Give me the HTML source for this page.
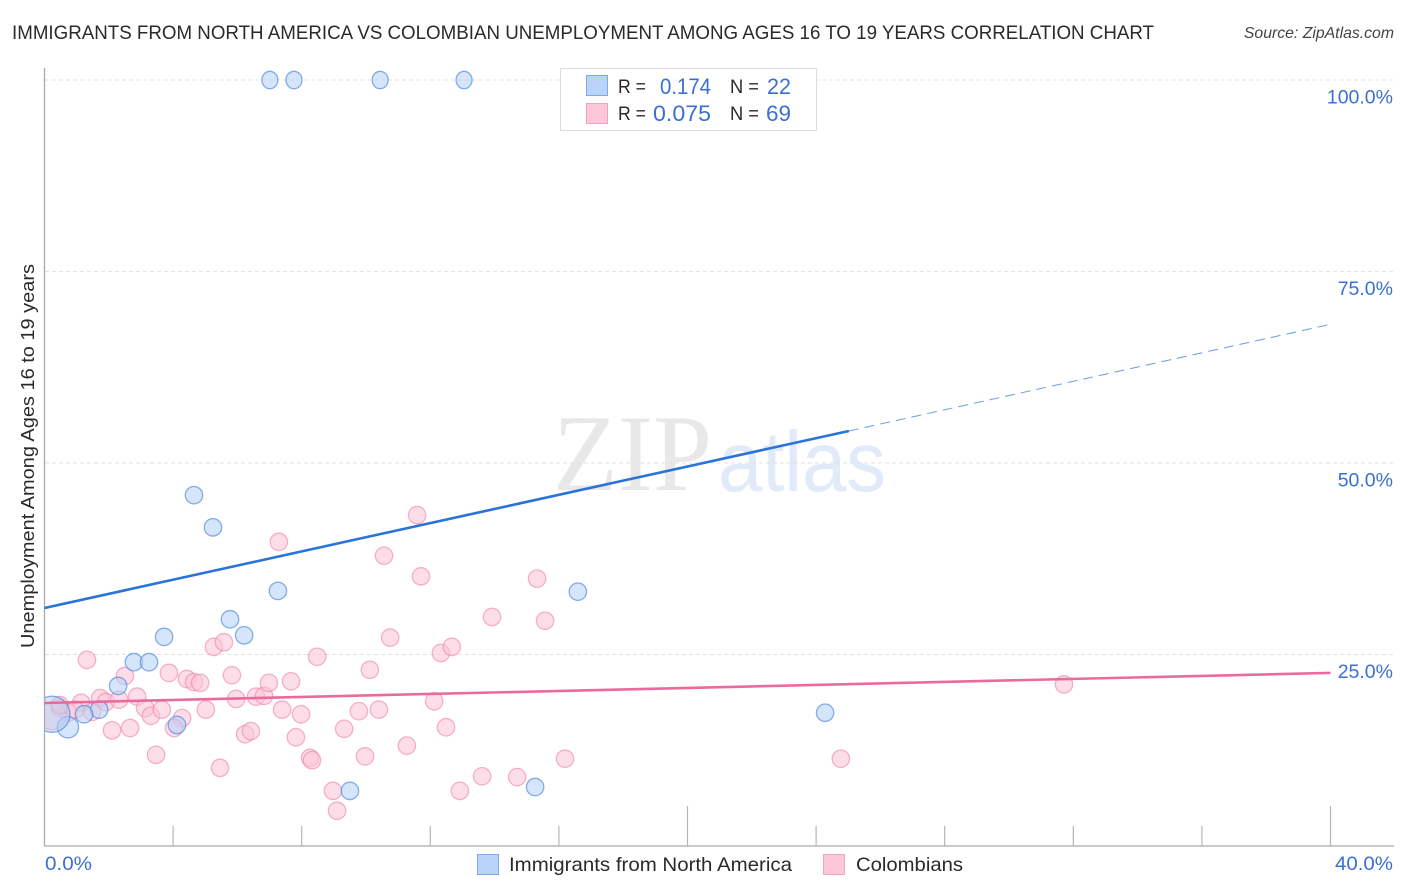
<!DOCTYPE html>
<html>
<head>
<meta charset="utf-8">
<title>Correlation chart</title>
<style>
html,body{margin:0;padding:0;background:#fff;}
svg{display:block;font-family:"Liberation Sans",sans-serif;}
</style>
</head>
<body>
<svg id="chart" width="1406" height="892" viewBox="0 0 1406 892" xmlns="http://www.w3.org/2000/svg">
  <defs><clipPath id="plot-clip"><rect x="45" y="60" width="1350" height="786"/></clipPath></defs>
  <text x="553" y="490" font-family="'Liberation Serif',serif" font-size="109" fill="#e8e8e8" textLength="159" lengthAdjust="spacingAndGlyphs">ZIP</text>
  <text x="718" y="491" font-family="'Liberation Sans',sans-serif" font-size="85" fill="#e0eaf9" textLength="168" lengthAdjust="spacingAndGlyphs">atlas</text>
  <g id="grid"></g>
  <g id="axes"></g>
  <g id="marks" clip-path="url(#plot-clip)"></g>
  <g id="trends"></g>
  <g id="ylabels"></g>

  <text x="12" y="39" font-size="19.5" fill="#2a2a2a" textLength="1142" lengthAdjust="spacingAndGlyphs">IMMIGRANTS FROM NORTH AMERICA VS COLOMBIAN UNEMPLOYMENT AMONG AGES 16 TO 19 YEARS CORRELATION CHART</text>
  <text x="1394" y="38" font-size="15.8" font-style="italic" fill="#444" text-anchor="end">Source: ZipAtlas.com</text>
  <text transform="translate(34,648) rotate(-90)" font-size="18.5" fill="#2a2a2a" textLength="384" lengthAdjust="spacingAndGlyphs">Unemployment Among Ages 16 to 19 years</text>

  <g>
    <rect x="560.5" y="68.5" width="256" height="62" fill="#fff" stroke="#dcdcdc"/>
    <rect x="586.5" y="75.5" width="21" height="20" fill="#b9d4f8" stroke="#7fa9e6"/>
    <rect x="586.5" y="103.5" width="21" height="20" fill="#fcc8d9" stroke="#f2a3bd"/>
    <text x="618" y="93" font-size="19.5" fill="#2a2a2a" textLength="28" lengthAdjust="spacingAndGlyphs">R =</text>
    <text x="660" y="94" font-size="22" fill="#3a70d2" textLength="51" lengthAdjust="spacingAndGlyphs">0.174</text>
    <text x="730" y="93" font-size="19.5" fill="#2a2a2a" textLength="29" lengthAdjust="spacingAndGlyphs">N =</text>
    <text x="767" y="94" font-size="22" fill="#3a70d2" textLength="24" lengthAdjust="spacingAndGlyphs">22</text>
    <text x="618" y="120" font-size="19.5" fill="#2a2a2a" textLength="28" lengthAdjust="spacingAndGlyphs">R =</text>
    <text x="653" y="121" font-size="22" fill="#3a70d2" textLength="58" lengthAdjust="spacingAndGlyphs">0.075</text>
    <text x="730" y="120" font-size="19.5" fill="#2a2a2a" textLength="29" lengthAdjust="spacingAndGlyphs">N =</text>
    <text x="766" y="121" font-size="22" fill="#3a70d2" textLength="25" lengthAdjust="spacingAndGlyphs">69</text>
  </g>

  <g>
    <rect x="477.5" y="854.5" width="21" height="20" fill="#b9d4f8" stroke="#7fa9e6"/>
    <text x="509" y="871" font-size="19.5" fill="#2a2a2a" textLength="283" lengthAdjust="spacingAndGlyphs">Immigrants from North America</text>
    <rect x="823.5" y="854.5" width="21" height="20" fill="#fcc8d9" stroke="#f2a3bd"/>
    <text x="856" y="871" font-size="19.5" fill="#2a2a2a" textLength="107" lengthAdjust="spacingAndGlyphs">Colombians</text>
  </g>

  <text x="45" y="870" font-size="19.5" fill="#3a70d2" textLength="47" lengthAdjust="spacingAndGlyphs">0.0%</text>
  <text x="1335" y="870" font-size="19.5" fill="#3a70d2" textLength="58" lengthAdjust="spacingAndGlyphs">40.0%</text>
</svg>
<script>
// Immigrants from North America: x = share %, y = unemployment %
const blueX = [7.01,7.76,10.44,13.05,4.65,5.24,7.26,16.59,5.77,6.21,3.72,2.78,3.25,2.29,1.70,1.23,0.73,0.23,4.12,9.50,15.26,24.28];
const blueY = [100,100,100,100,45.8,41.6,33.3,33.2,29.6,27.5,27.3,24.0,24.0,20.9,17.8,17.2,15.5,17.2,15.8,7.2,7.7,17.4];
const blueWeight = [1,1,1,1,1,1,1,1,1,1,1,1,1,1,1,1,1.5,4.3,1,1,1,1];

// Colombians
const pinkX = [1.32,2.50,1.14,1.73,1.91,2.32,2.88,3.13,3.31,3.65,2.10,2.66,3.47,3.87,4.43,4.65,4.84,5.27,5.58,5.83,5.96,6.58,6.83,6.98,7.67,8.48,7.39,7.98,7.82,8.26,8.32,8.97,9.10,5.02,4.28,4.03,5.46,6.24,6.42,10.75,12.33,12.67,10.12,12.12,9.78,10.40,9.32,12.49,11.27,9.97,12.92,13.61,7.29,10.56,11.59,11.71,13.92,15.32,15.57,14.70,16.19,24.77,31.71,0.48,0.73,1.48,0.23,0.48,0.95];
const pinkY = [24.3,22.2,18.7,19.3,18.8,19.1,19.5,18.0,17.0,17.8,15.1,15.4,11.9,22.6,21.8,21.4,21.3,26.0,26.6,22.3,19.2,19.5,19.6,21.3,21.5,24.7,17.8,17.2,14.2,11.5,11.2,7.2,4.6,17.8,16.7,15.4,10.2,14.6,15.0,27.2,25.2,26.0,23.0,18.9,17.6,17.8,15.3,15.5,13.1,11.7,7.2,9.1,39.7,37.9,43.2,35.2,29.9,34.9,29.4,9.0,11.4,11.4,21.1,18.0,17.4,17.5,17.0,18.4,17.8];
const pinkWeight = [1,1,1,1,1,1,1,1,1,1,1,1,1,1,1,1,1,1,1,1,1,1,1,1,1,1,1,1,1,1,1,1,1,1,1,1,1,1,1,1,1,1,1,1,1,1,1,1,1,1,1,1,1,1,1,1,1,1,1,1,1,1,1,1,1,1,2.6,1,1];

// Trend lines: x and y at start, end of solid part, end of projection
const blueTrendX = [0,25.02,40.05];
const blueTrendY = [31.07,54.18,68.15];
const pinkTrendX = [0,40];
const pinkTrendY = [18.67,22.6];

const yTicks = [25,50,75,100];
const yTickLabels = ["25.0%","50.0%","75.0%","100.0%"];
const xTicks = [4,8,12,16,20,24,28,32,36,40];
const xMajorTicks = [20,40];

const NS = "http://www.w3.org/2000/svg";
const sx = v => 44.5 + v * 32.15;
const sy = v => 846 - v * 7.66;
function mk(tag, parent, attrs) {
  const el = document.createElementNS(NS, tag);
  for (const k in attrs) el.setAttribute(k, attrs[k]);
  parent.appendChild(el);
  return el;
}
const grid = document.getElementById("grid");
const axes = document.getElementById("axes");
const marks = document.getElementById("marks");
const trends = document.getElementById("trends");
const ylabels = document.getElementById("ylabels");

yTicks.forEach((t, i) => {
  const g = mk("line", grid, {x1:45, x2:1393, y1:sy(t), y2:sy(t), stroke:"#e2e2e2", "stroke-width":1, "stroke-dasharray":"4 3"});
  
  
  const l = mk("text", ylabels, {x:1393, y:sy(t) + 23.5, "font-size":19.5, fill:"#3a70d2", "text-anchor":"end"});
  l.textContent = yTickLabels[i];
  
  
});

const yAxis = mk("line", axes, {x1:44.5, x2:44.5, y1:68, y2:846.5, stroke:"#aaaaaa", "stroke-width":1.3});


const xAxis = mk("line", axes, {x1:44, x2:1394, y1:846, y2:846, stroke:"#aaaaaa", "stroke-width":1.3});


xTicks.forEach(t => {
  const h = xMajorTicks.includes(t) ? 40 : 20;
  const tk = mk("line", axes, {x1:sx(t), x2:sx(t), y1:846 - h, y2:846, stroke:"#b5b5b5", "stroke-width":1.2});
  
  
});

function drawPoints(xs, ys, ws, fill, stroke, strokeOpacity, name) {
  xs.forEach((x, i) => {
    const r = 8.7 * Math.sqrt(ws[i]);
    const c = mk("ellipse", marks, {cx:sx(x), cy:sy(ys[i]), rx: ys[i] >= 100 ? 8 : r, ry: r, fill:fill, "fill-opacity":0.55, stroke:stroke, "stroke-opacity":strokeOpacity, "stroke-width":1.3});
    
    
  });
}
drawPoints(pinkX, pinkY, pinkWeight, "#fbc3d6", "#ec84a8", 0.6, "colombians-point");
drawPoints(blueX, blueY, blueWeight, "#b5d1f6", "#3f80dc", 0.62, "immigrants-point");

const blueSolid = mk("line", trends, {x1:sx(blueTrendX[0]), y1:sy(blueTrendY[0]), x2:sx(blueTrendX[1]), y2:sy(blueTrendY[1]), stroke:"#2a73d8", "stroke-width":2.6});


const blueDash = mk("line", trends, {x1:sx(blueTrendX[1]), y1:sy(blueTrendY[1]), x2:sx(blueTrendX[2]), y2:sy(blueTrendY[2]), stroke:"#2a73d8", "stroke-opacity":0.7, "stroke-width":1, "stroke-dasharray":"10 6"});


const pinkLine = mk("line", trends, {x1:sx(pinkTrendX[0]), y1:sy(pinkTrendY[0]), x2:sx(pinkTrendX[1]), y2:sy(pinkTrendY[1]), stroke:"#ea6a9b", "stroke-width":2.6});


</script>
</body>
</html>
